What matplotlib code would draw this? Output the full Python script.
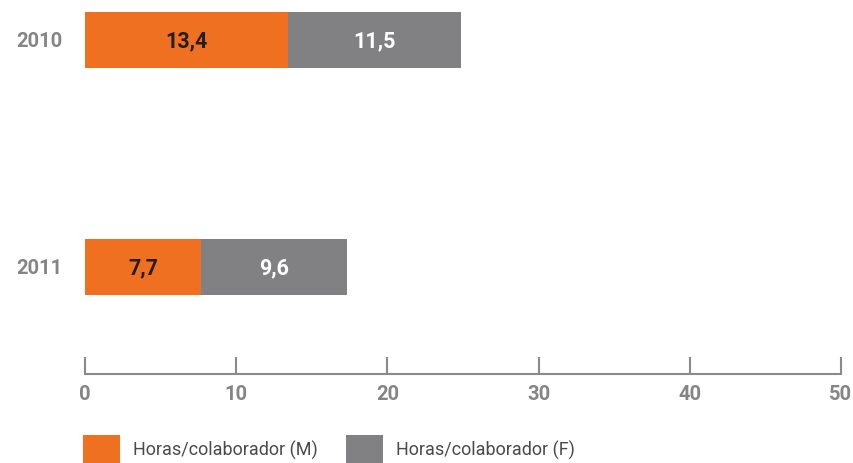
import matplotlib
matplotlib.use("Agg")
import matplotlib.pyplot as plt
import numpy as np

# data
years = ["2010", "2011"]
horas_m = [13.4, 7.7]
horas_f = [11.5, 9.6]
legend_labels = ["Horas/colaborador (M)", "Horas/colaborador (F)"]
xticks = [0, 10, 20, 30, 40, 50]

orange = "#F07022"
grey = "#818083"
label_grey = "#858585"

plt.rcParams["font.family"] = ["Roboto", "DejaVu Sans"]

fig = plt.figure(figsize=(8.54, 4.64), dpi=100)
ax = fig.add_axes([85 / 854, 89 / 464, (841 - 85) / 854, 375 / 464])

y = np.arange(len(years))
h = 0.247
bars_m = ax.barh(y, horas_m, height=h, color=orange, label=legend_labels[0])
bars_f = ax.barh(y, horas_f, height=h, left=horas_m, color=grey, label=legend_labels[1])

for i in range(len(years)):
    ax.text(horas_m[i] / 2, y[i], f"{horas_m[i]:.1f}".replace(".", ","),
            ha="center", va="center", fontsize=15.5, fontweight="bold", color="#231F20")
    ax.text(horas_m[i] + horas_f[i] / 2, y[i], f"{horas_f[i]:.1f}".replace(".", ","),
            ha="center", va="center", fontsize=15.5, fontweight="bold", color="white")
    ax.text(-1.5, y[i], years[i], ha="right", va="center",
            fontsize=14.5, fontweight="bold", color=label_grey)

ax.set_xlim(0, 50)
ax.set_ylim(1.471, -0.181)
ax.set_xticks(xticks)
ax.set_xticklabels([str(t) for t in xticks], fontsize=14.5, fontweight="bold", color=label_grey)
ax.set_yticks([])
for s in ["top", "right", "left"]:
    ax.spines[s].set_visible(False)
ax.spines["bottom"].set_color("#8A8A8A")
ax.spines["bottom"].set_linewidth(1.5)
ax.tick_params(axis="x", direction="in", length=12, width=1.5, color="#8A8A8A", pad=7)

fig.legend(handles=[bars_m, bars_f], labels=legend_labels, loc="lower left",
           bbox_to_anchor=(83 / 854, 0.0), ncol=2, frameon=False,
           fontsize=13, handlelength=2.05, handleheight=2.0, handletextpad=0.7,
           columnspacing=1.6, borderpad=0, borderaxespad=0, labelcolor="#4A4A4A")

fig.savefig("out.png", dpi=100)
